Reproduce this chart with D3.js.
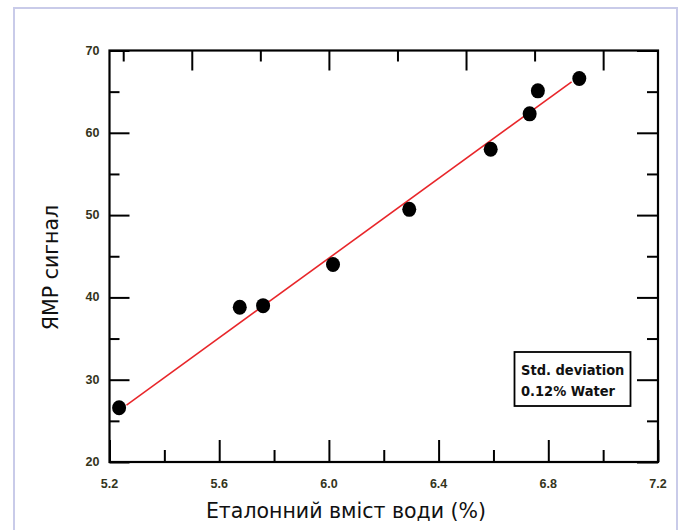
<!DOCTYPE html>
<html>
<head>
<meta charset="utf-8">
<script src="https://cdn.jsdelivr.net/npm/d3@7"></script>
<style>
  body { margin: 0; background: #fff; }
  svg { display: block; }
  .tick-label { font-family: "Liberation Sans", Arial, sans-serif; font-weight: bold; font-size: 12.5px; fill: #34341c; }
  .axis-title { font-family: "DejaVu Sans", sans-serif; font-size: 20.5px; fill: #111; }
  .note { font-family: "Liberation Sans Narrow", "DejaVu Sans Condensed", sans-serif; font-weight: bold; font-size: 14.5px; fill: #111; }
</style>
</head>
<body>
<div id="chart"></div>
<script>
// Measured points: water content (%) vs NMR signal
const waterPct = [5.235, 5.675, 5.76, 6.015, 6.293, 6.59, 6.732, 6.762, 6.913];
const nmrSignal = [26.6, 38.8, 39.0, 44.0, 50.7, 58.0, 62.3, 65.1, 66.6];

// Fitted calibration line (end points)
const fitX = [5.262, 6.885];
const fitY = [26.9, 66.2];

// Axis ticks
const xTicksBottom = [5.2, 5.6, 6.0, 6.4, 6.8, 7.2];
const xMinorBottom = [5.4, 5.8, 6.2, 6.6, 7.0];
const xTicksTop = [5.5, 6.0, 6.5, 7.0];
const xMinorTop = [5.25, 5.75, 6.25, 6.75];
const yTicks = [20, 30, 40, 50, 60, 70];
const yMinor = [25, 35, 45, 55, 65];

const noteLines = ["Std. deviation", "0.12% Water"];

const width = 681, height = 530;
const margin = { top: 50.5, right: 23, bottom: 68, left: 109.5 };

const svg = d3.select("#chart").append("svg")
  .attr("width", width)
  .attr("height", height);

// Outer frame
svg.append("rect")
  .attr("x", 14).attr("y", 8)
  .attr("width", 663).attr("height", 540)
  .attr("fill", "none")
  .attr("stroke", "#c9cbe9")
  .attr("stroke-width", 2);

const x = d3.scaleLinear().domain([5.2, 7.2]).range([margin.left, width - margin.right]);
const y = d3.scaleLinear().domain([20, 70]).range([height - margin.bottom, margin.top]);

const g = svg.append("g");

// Bottom axis: major ticks go up into the plot
const axBottom = g.append("g").attr("transform", `translate(0,${y(20)})`);
axBottom.call(d3.axisBottom(x).tickValues(xTicksBottom).tickSize(-22).tickFormat(""));
axBottom.append("g").call(d3.axisBottom(x).tickValues(xMinorBottom).tickSize(-12).tickFormat(""));

// Top axis
const axTop = g.append("g").attr("transform", `translate(0,${y(70)})`);
axTop.call(d3.axisTop(x).tickValues(xTicksTop).tickSize(-20).tickFormat(""));
axTop.append("g").call(d3.axisTop(x).tickValues(xMinorTop).tickSize(-11).tickFormat(""));

// Left axis
const axLeft = g.append("g").attr("transform", `translate(${x(5.2)},0)`);
axLeft.call(d3.axisLeft(y).tickValues(yTicks).tickSize(-20).tickFormat(""));
axLeft.append("g").call(d3.axisLeft(y).tickValues(yMinor).tickSize(-10).tickFormat(""));

// Right axis
const axRight = g.append("g").attr("transform", `translate(${x(7.2)},0)`);
axRight.call(d3.axisRight(y).tickValues(yTicks).tickSize(-21).tickFormat(""));
axRight.append("g").call(d3.axisRight(y).tickValues(yMinor).tickSize(-11).tickFormat(""));

g.selectAll(".domain").remove();
g.selectAll(".tick line").attr("stroke", "#000").attr("stroke-width", 2);

// Plot border
svg.append("rect")
  .attr("x", x(5.2)).attr("y", y(70))
  .attr("width", x(7.2) - x(5.2)).attr("height", y(20) - y(70))
  .attr("fill", "none")
  .attr("stroke", "#000")
  .attr("stroke-width", 2.2);

// Tick labels
svg.selectAll(".ylab").data(yTicks).join("text")
  .attr("class", "tick-label")
  .attr("x", x(5.2) - 10)
  .attr("y", d => y(d) + 4)
  .attr("text-anchor", "end")
  .text(d => d);

svg.selectAll(".xlab").data(xTicksBottom).join("text")
  .attr("class", "tick-label")
  .attr("x", d => x(d))
  .attr("y", y(20) + 26)
  .attr("text-anchor", "middle")
  .text(d => d.toFixed(1));

// Fit line
const line = d3.line().x(d => x(d[0])).y(d => y(d[1]));
svg.append("path")
  .datum(d3.zip(fitX, fitY))
  .attr("d", line)
  .attr("fill", "none")
  .attr("stroke", "#e8262a")
  .attr("stroke-width", 1.6);

// Points
svg.selectAll(".pt").data(d3.zip(waterPct, nmrSignal)).join("ellipse")
  .attr("cx", d => x(d[0]))
  .attr("cy", d => y(d[1]))
  .attr("rx", 7)
  .attr("ry", 7.5)
  .attr("fill", "#000");

// Note box
svg.append("rect")
  .attr("x", 514.5).attr("y", 352)
  .attr("width", 116).attr("height", 54)
  .attr("fill", "#fff")
  .attr("stroke", "#000")
  .attr("stroke-width", 1.8);

svg.selectAll(".note").data(noteLines).join("text")
  .attr("class", "note")
  .attr("x", 521)
  .attr("y", (d, i) => 375 + i * 21)
  .text(d => d);

// Axis titles
svg.append("text")
  .attr("class", "axis-title")
  .attr("transform", `translate(58,267.5) rotate(-90)`)
  .attr("text-anchor", "middle")
  .text("ЯМР сигнал");

svg.append("text")
  .attr("class", "axis-title")
  .attr("x", 346)
  .attr("y", 518)
  .attr("text-anchor", "middle")
  .text("Еталонний вміст води (%)");
</script>
</body>
</html>
